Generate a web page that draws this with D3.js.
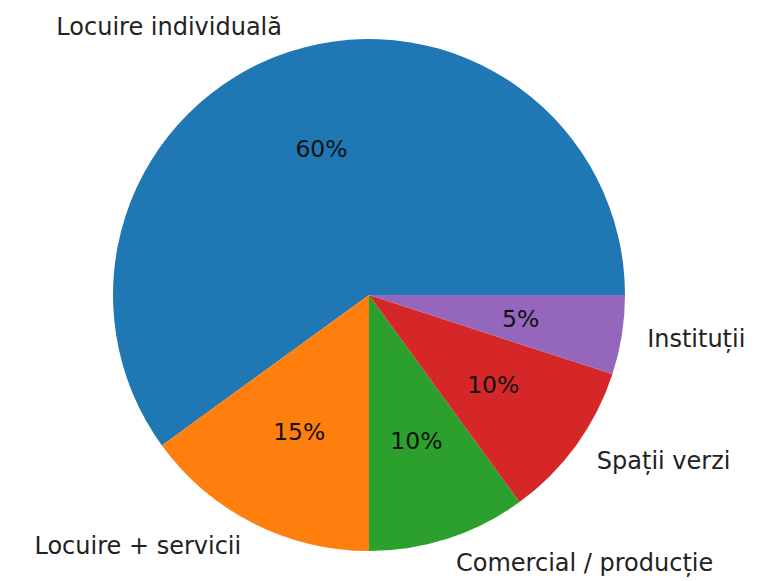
<!DOCTYPE html>
<html>
<head>
<meta charset="utf-8">
<script src="https://cdn.jsdelivr.net/npm/d3@7"></script>
<style>
  body { margin: 0; background: #fff; }
  text { font-family: "DejaVu Sans", sans-serif; }
</style>
</head>
<body>
<svg id="chart" width="763" height="581"></svg>
<script>
const labels = ["Locuire individuală", "Locuire + servicii", "Comercial / producție", "Spații verzi", "Instituții"];
const values = [60, 15, 10, 10, 5];
const colors = ["#1f77b4", "#ff7f0e", "#2ca02c", "#d62728", "#9467bd"];

const cx = 369, cy = 295, r = 256;
const labelSize = 24, pctSize = 23.5;

const svg = d3.select("#chart");
const g = svg.append("g").attr("transform", `translate(${cx},${cy})`);

// matplotlib style: start at 3 o'clock, counterclockwise
const pie = d3.pie().sort(null).value(d => d)
    .startAngle(Math.PI / 2).endAngle(Math.PI / 2 - 2 * Math.PI);
const arcs = pie(values);
const arc = d3.arc().innerRadius(0).outerRadius(r);

g.selectAll("path")
    .data(arcs)
    .enter()
    .append("path")
    .attr("d", arc)
    .attr("fill", (d, i) => colors[i]);

const total = d3.sum(values);
const mid = d => (d.startAngle + d.endAngle) / 2;
// d3 angle: 0 at 12 o'clock, clockwise
const px = (a, k) => k * r * Math.sin(a);
const py = (a, k) => -k * r * Math.cos(a);

g.selectAll(".lbl")
    .data(arcs)
    .enter()
    .append("text")
    .attr("class", "lbl")
    .attr("x", d => px(mid(d), 1.1))
    .attr("y", d => py(mid(d), 1.1))
    .attr("text-anchor", d => px(mid(d), 1) > 0 ? "start" : "end")
    .attr("dominant-baseline", "central")
    .style("font-size", labelSize + "px")
    .attr("fill", "#222")
    .text((d, i) => labels[i]);

g.selectAll(".pct")
    .data(arcs)
    .enter()
    .append("text")
    .attr("class", "pct")
    .attr("x", d => px(mid(d), 0.6))
    .attr("y", d => py(mid(d), 0.6))
    .attr("text-anchor", "middle")
    .attr("dominant-baseline", "central")
    .style("font-size", pctSize + "px")
    .attr("fill", "#111")
    .text(d => d3.format(".0f")(d.value / total * 100) + "%");
</script>
</body>
</html>
